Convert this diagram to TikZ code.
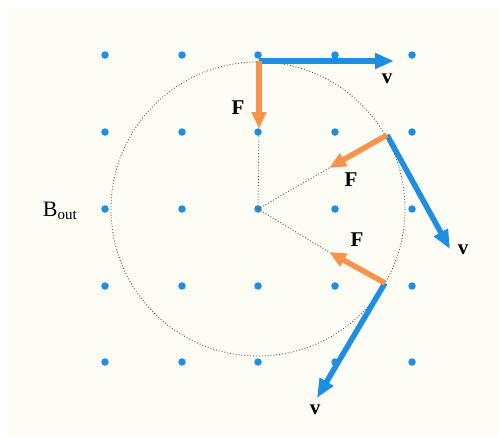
\documentclass[tikz,border=0pt]{standalone}
\usepackage{fontspec}
\setmainfont{Liberation Serif}
\usetikzlibrary{arrows.meta}
\definecolor{dotblue}{HTML}{1E8FE0}
\definecolor{vblue}{HTML}{1E8FE0}
\definecolor{forange}{HTML}{F7934C}
\definecolor{bgcream}{HTML}{FDFDF6}
\begin{document}
\begin{tikzpicture}[x=1pt,y=-1pt,
  fielddot/.style={circle,fill=dotblue,inner sep=0pt,minimum size=7.5pt},
  velarrow/.style={draw=vblue,line width=5.5pt,-{Triangle[length=19pt,width=15pt]}},
  forcearrow/.style={draw=forange,line width=5.5pt,-{Triangle[length=17pt,width=14pt]}},
  radial/.style={draw=black!65,dotted,line width=0.9pt},
  lbl/.style={font=\fontsize{21}{21}\selectfont\bfseries,inner sep=0pt}]
\useasboundingbox (0,0) rectangle (498,437);
\fill[bgcream] (8,7) rectangle (498,437);
% field dots
\foreach \i/\x in {1/105,2/182,3/258,4/335,5/412}{
  \foreach \j/\y in {1/55,2/132,3/209,4/286,5/362}{
    \node[fielddot] (d\i\j) at (\x,\y) {};
  }
}
% orbit
\coordinate (c) at (258,209);
\draw[radial] (c) circle (147);
% positions on orbit
\coordinate (p1) at (259,61);
\coordinate (p2) at (387,135);
\coordinate (p3) at (385,283);
% force tips
\coordinate (f1) at (259,129);
\coordinate (f2) at (329,168);
\coordinate (f3) at (329,252);
% velocity tips
\coordinate (v1) at (394,61);
\coordinate (v2) at (450,249);
\coordinate (v3) at (317,398);
% radial dotted lines
\draw[radial] (c) -- (f1);
\draw[radial] (c) -- (f2);
\draw[radial] (c) -- (f3);
% arrows
\draw[velarrow] (p1) -- (v1);
\draw[velarrow] (p2) -- (v2);
\draw[velarrow] (p3) -- (v3);
\draw[forcearrow] (p1) -- (f1);
\draw[forcearrow] (p2) -- (f2);
\draw[forcearrow] (p3) -- (f3);
% labels
\node[lbl] (lv1) at (387,79) {v};
\node[lbl] (lv2) at (463,250) {v};
\node[lbl] (lv3) at (315,410) {v};
\node[lbl] (lf1) at (238,108) {F};
\node[lbl] (lf2) at (351,180) {F};
\node[lbl] (lf3) at (357,240) {F};
\node[inner sep=0pt,font=\fontsize{22}{22}\selectfont] (bout) at (60,211) {B\textsubscript{\fontsize{15}{15}\selectfont out}};
\end{tikzpicture}
\end{document}
